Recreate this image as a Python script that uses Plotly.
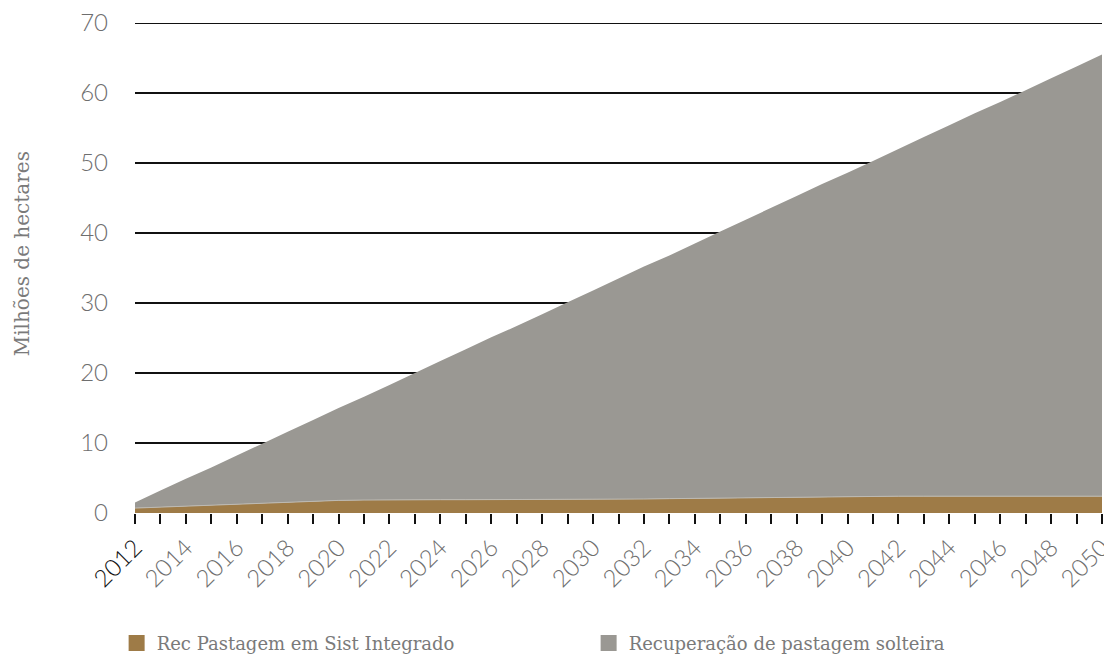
import plotly.graph_objects as go

years = list(range(2012, 2051))

rec_integrado = [0.7, 0.85, 1.0, 1.15, 1.3, 1.45, 1.6, 1.7, 1.8, 1.85,
                 1.9, 1.9, 1.9, 1.9, 1.9, 1.95, 1.95, 2.0, 2.0, 2.0,
                 2.0, 2.05, 2.1, 2.1, 2.15, 2.2, 2.25, 2.3, 2.4, 2.4,
                 2.4, 2.4, 2.4, 2.4, 2.4, 2.4, 2.4, 2.4, 2.4]

rec_solteira = [0.8, 2.35, 3.9, 5.35, 6.9, 8.45, 10.0, 11.6, 13.2, 14.75,
                16.4, 18.1, 19.8, 21.5, 23.2, 24.75, 26.45, 28.1, 29.8, 31.5,
                33.2, 34.75, 36.4, 38.1, 39.75, 41.4, 43.05, 44.7, 46.2, 47.9,
                49.6, 51.3, 53.0, 54.7, 56.3, 58.0, 59.7, 61.4, 63.1]

series_names = ["Rec Pastagem em Sist Integrado", "Recuperação de pastagem solteira"]
colors = ["#9e7b47", "#9a9893"]
y_title = "Milhões de hectares"

y_ticks = [0, 10, 20, 30, 40, 50, 60, 70]
x_ticktext = []
for yr in years:
    if yr == 2012:
        x_ticktext.append("<span style='color:#111111'>2012</span>")
    elif yr % 2 == 0:
        x_ticktext.append(str(yr))
    else:
        x_ticktext.append("")

fig = go.Figure()
fig.add_trace(go.Scatter(
    x=years, y=rec_integrado, mode="lines", stackgroup="one",
    line=dict(width=1, color="#bdbab3"), fillcolor=colors[0],
    name=series_names[0], showlegend=False))
fig.add_trace(go.Scatter(
    x=years, y=rec_solteira, mode="none", stackgroup="one",
    fillcolor=colors[1], name=series_names[1], showlegend=False))

for name, c in zip(series_names, colors):
    fig.add_trace(go.Scatter(
        x=[None], y=[None], mode="markers", name=name,
        marker=dict(symbol="square", size=16, color=c)))

tick_font = dict(family="Lato", size=24, color="#6e6e6e", weight=300)
serif_font = dict(family="DejaVu Serif", size=18, color="#7a7a7a")

# top gridline (Plotly omits the gridline at the range edge)
fig.add_shape(type="line", xref="paper", x0=0, x1=1, yref="y", y0=y_ticks[-1], y1=y_ticks[-1],
              line=dict(color="#111111", width=2), layer="below")

fig.add_annotation(text=y_title, xref="paper", x=0, xshift=-113, xanchor="center",
                   yref="paper", y=0.528, yanchor="middle", textangle=-90,
                   showarrow=False, font=dict(family="DejaVu Serif", size=20, color="#7a7a7a"))

fig.update_layout(
    width=1112, height=652,
    margin=dict(l=127, r=18, t=15, b=147, autoexpand=False),
    paper_bgcolor="white", plot_bgcolor="white",
    showlegend=True,
    legend=dict(
        orientation="h", x=-0.019, xanchor="left", y=-0.266, yanchor="middle",
        font=serif_font, traceorder="normal",
        entrywidth=427, entrywidthmode="pixels", itemsizing="trace",
        bgcolor="rgba(0,0,0,0)"),
    xaxis=dict(
        range=[2012, 2050], tickmode="array", tickvals=years, ticktext=x_ticktext,
        tickangle=-45, ticks="outside", ticklen=10, tickwidth=2, tickcolor="#111111",
        showgrid=False, zeroline=False, showline=False, ticklabeloverflow="allow",
        tickfont=tick_font),
    yaxis=dict(
        range=[0, 70], tickmode="array", tickvals=y_ticks,
        showgrid=True, gridcolor="#111111", gridwidth=1.5, zeroline=False,
        showline=False, ticks="", ticklabelstandoff=26, ticklabeloverflow="allow",
        tickfont=tick_font),
)

fig.write_html("out.html")
